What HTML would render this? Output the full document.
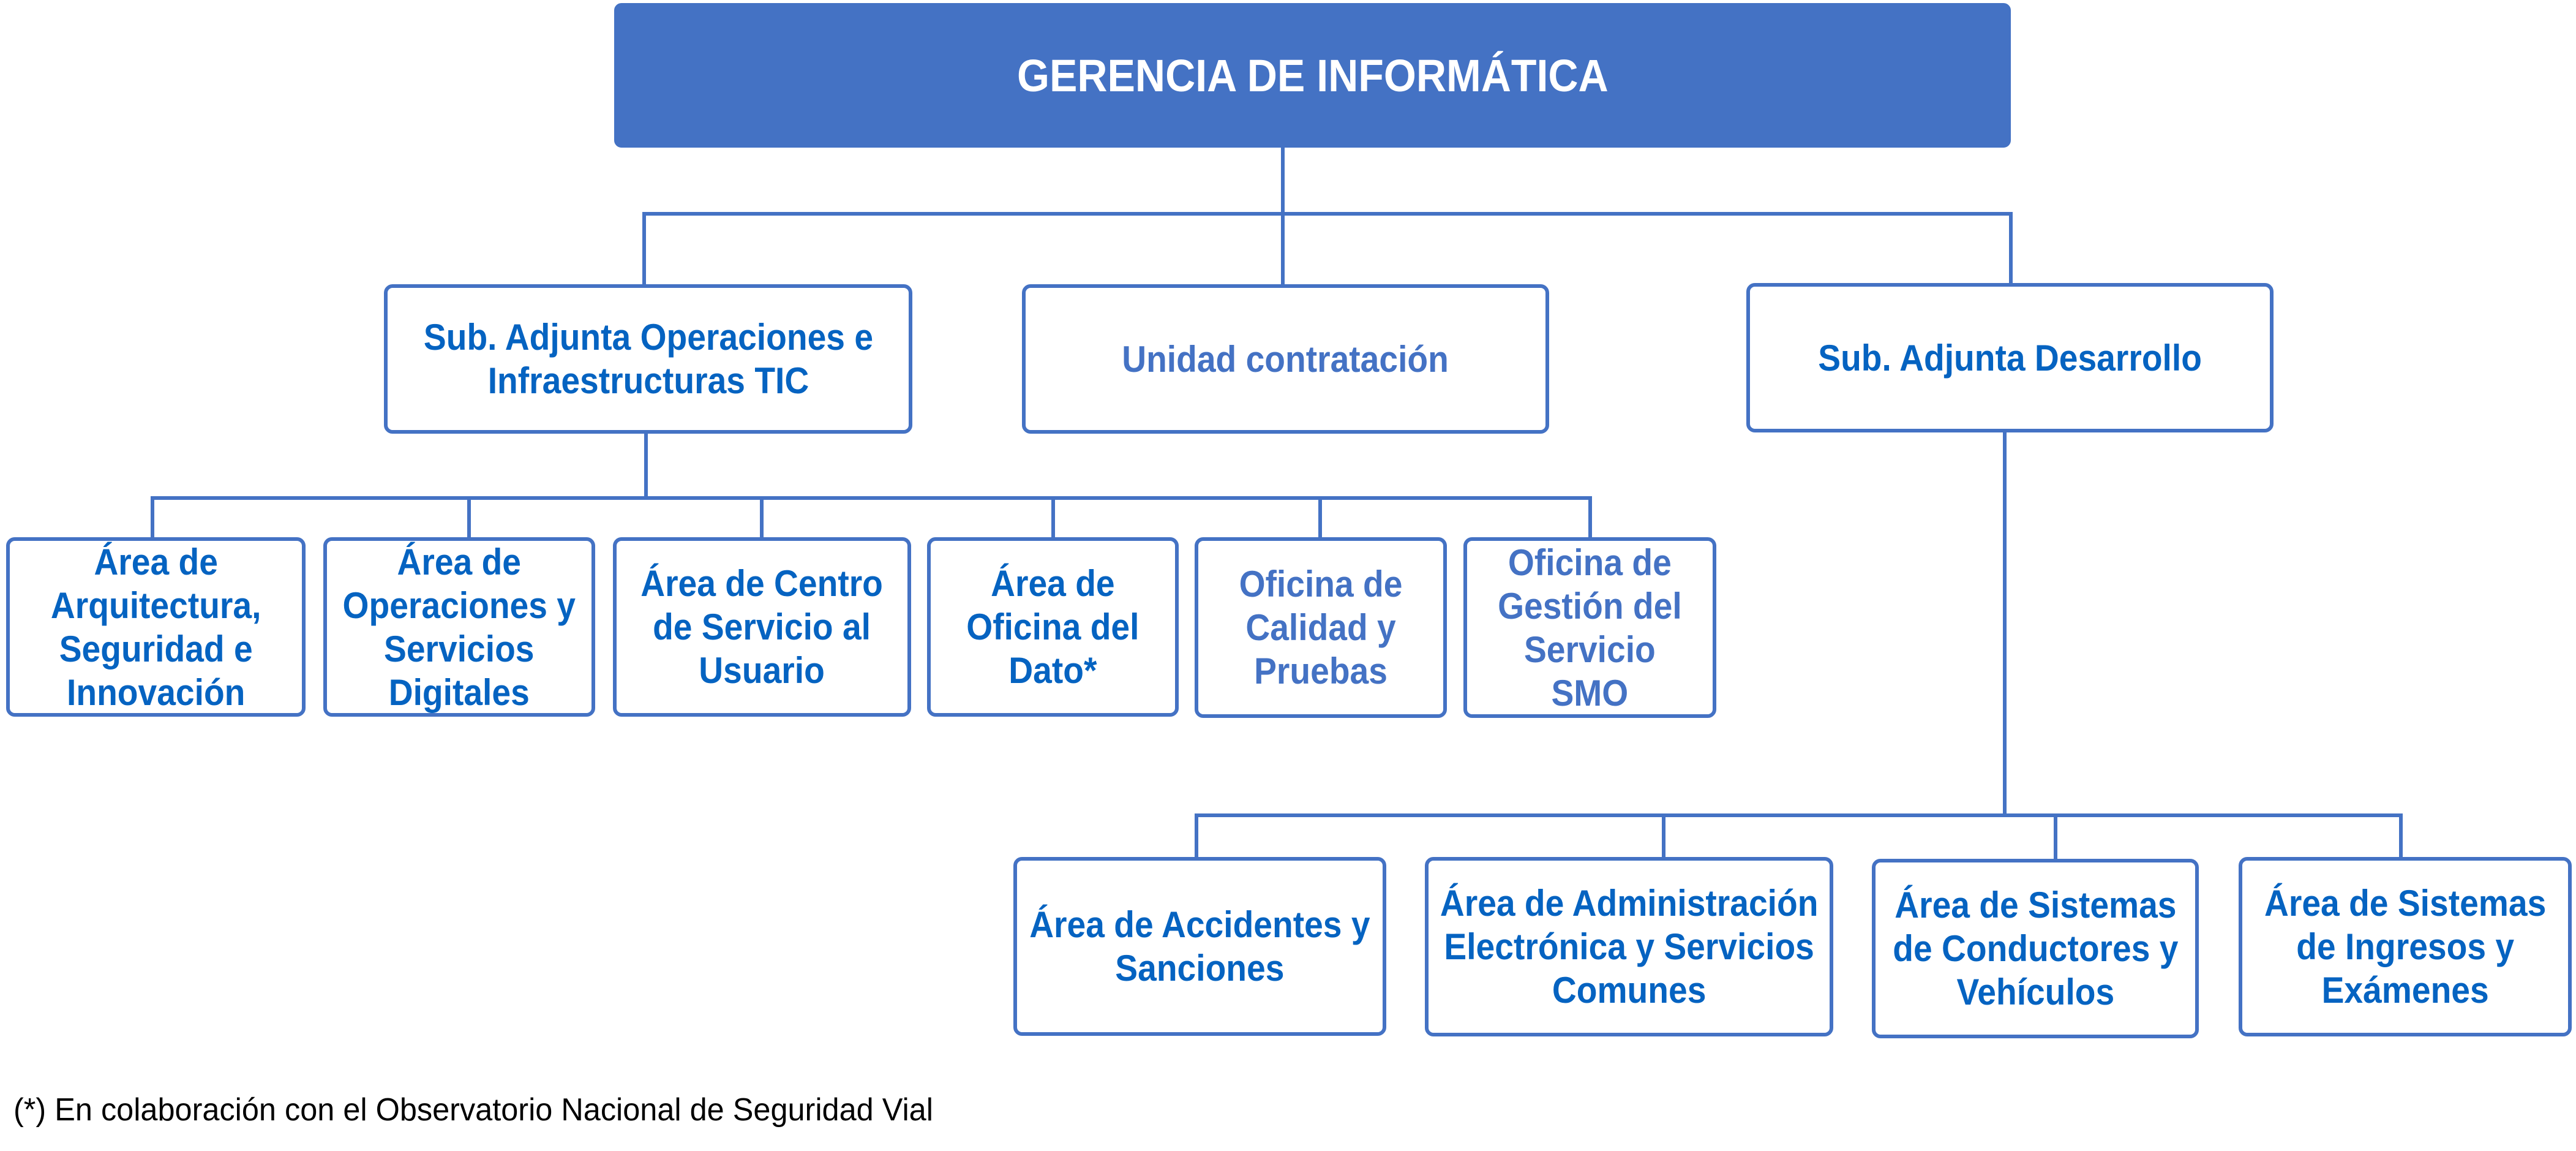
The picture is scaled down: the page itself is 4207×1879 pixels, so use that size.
<!DOCTYPE html>
<html><head><meta charset="utf-8"><style>
body{margin:0;width:4207px;height:1879px;background:#fff;position:relative;overflow:hidden;font-family:"Liberation Sans",sans-serif}
.b{position:absolute;box-sizing:border-box;border:6px solid #4472C4;border-radius:14px;background:#fff;display:flex;align-items:center;justify-content:center;text-align:center;color:#0563C1;font-weight:bold;font-size:60px;line-height:71px}
.b span{display:inline-block;white-space:nowrap;transform:scaleX(.92)}
.l{color:#4472C4}
.h{position:absolute;background:#4472C4}
</style></head><body>
<div class="b" style="left:1003px;top:5px;width:2281px;height:236px;background:#4472C4;color:#fff;border-radius:12px;font-size:74px"><span>GERENCIA DE INFORMÁTICA</span></div>

<div class="h" style="left:2092px;top:241px;width:6px;height:111px"></div>
<div class="h" style="left:1049px;top:346px;width:2238px;height:6px"></div>
<div class="h" style="left:1049px;top:346px;width:6px;height:120px"></div>
<div class="h" style="left:2092px;top:346px;width:6px;height:120px"></div>
<div class="h" style="left:3281px;top:346px;width:6px;height:120px"></div>

<div class="b" style="left:627px;top:464px;width:863px;height:244px"><span>Sub. Adjunta Operaciones e<br>Infraestructuras TIC</span></div>
<div class="b l" style="left:1669px;top:464px;width:861px;height:244px"><span>Unidad contratación</span></div>
<div class="b" style="left:2852px;top:462px;width:861px;height:244px"><span>Sub. Adjunta Desarrollo</span></div>

<div class="h" style="left:1052px;top:708px;width:6px;height:108px"></div>
<div class="h" style="left:246px;top:810px;width:2354px;height:6px"></div>
<div class="h" style="left:246px;top:810px;width:6px;height:70px"></div>
<div class="h" style="left:763px;top:810px;width:6px;height:70px"></div>
<div class="h" style="left:1241px;top:810px;width:6px;height:70px"></div>
<div class="h" style="left:1717px;top:810px;width:6px;height:70px"></div>
<div class="h" style="left:2153px;top:810px;width:6px;height:70px"></div>
<div class="h" style="left:2594px;top:810px;width:6px;height:70px"></div>

<div class="b" style="left:10px;top:877px;width:489px;height:293px"><span>Área de<br>Arquitectura,<br>Seguridad e<br>Innovación</span></div>
<div class="b" style="left:528px;top:877px;width:444px;height:293px"><span>Área de<br>Operaciones y<br>Servicios<br>Digitales</span></div>
<div class="b" style="left:1001px;top:877px;width:487px;height:293px"><span>Área de Centro<br>de Servicio al<br>Usuario</span></div>
<div class="b" style="left:1514px;top:877px;width:411px;height:293px"><span>Área de<br>Oficina del<br>Dato*</span></div>
<div class="b l" style="left:1951px;top:877px;width:412px;height:295px"><span>Oficina de<br>Calidad y<br>Pruebas</span></div>
<div class="b l" style="left:2390px;top:877px;width:413px;height:295px"><span>Oficina de<br>Gestión del<br>Servicio<br>SMO</span></div>

<div class="h" style="left:3271px;top:706px;width:6px;height:628px"></div>
<div class="h" style="left:1951px;top:1328px;width:1973px;height:6px"></div>
<div class="h" style="left:1951px;top:1328px;width:6px;height:74px"></div>
<div class="h" style="left:2714px;top:1328px;width:6px;height:74px"></div>
<div class="h" style="left:3354px;top:1328px;width:6px;height:76px"></div>
<div class="h" style="left:3918px;top:1328px;width:6px;height:74px"></div>

<div class="b" style="left:1655px;top:1399px;width:609px;height:292px"><span>Área de Accidentes y<br>Sanciones</span></div>
<div class="b" style="left:2327px;top:1399px;width:667px;height:293px"><span>Área de Administración<br>Electrónica y Servicios<br>Comunes</span></div>
<div class="b" style="left:3057px;top:1402px;width:534px;height:293px"><span>Área de Sistemas<br>de Conductores y<br>Vehículos</span></div>
<div class="b" style="left:3656px;top:1399px;width:544px;height:293px"><span>Área de Sistemas<br>de Ingresos y<br>Exámenes</span></div>

<div style="position:absolute;left:22px;top:1782px;font-size:52px;color:#000;white-space:nowrap;transform:scaleX(.97);transform-origin:left">(*) En colaboración con el Observatorio Nacional de Seguridad Vial</div>
</body></html>
